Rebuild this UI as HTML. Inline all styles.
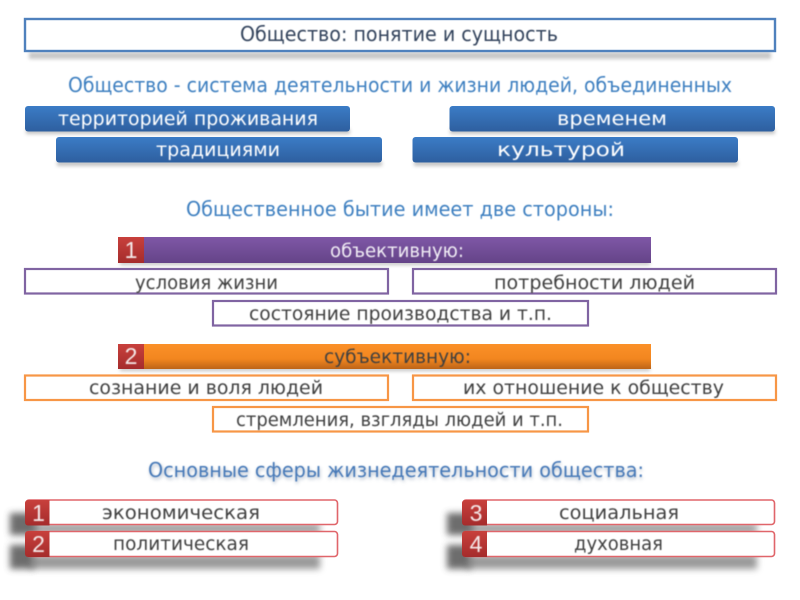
<!DOCTYPE html>
<html lang="ru"><head><meta charset="utf-8"><style>
html,body{margin:0;padding:0;background:#fff;width:800px;height:600px;overflow:hidden}
svg{display:block}
text{font-family:"DejaVu Sans","Liberation Sans",sans-serif;font-size:19px;fill:#3f3f3f;filter:url(#tb)}
.w{fill:#fff}.b{fill:#3d7fc0}
.n{font-family:"Liberation Sans",sans-serif;font-size:23px;fill:#f4e8e8}
</style></head><body>
<svg width="800" height="600" viewBox="0 0 800 600" xmlns="http://www.w3.org/2000/svg">
<defs>
<filter id="tb" x="-5%" y="-30%" width="110%" height="160%"><feGaussianBlur stdDeviation="0.4"/></filter>
<filter id="s1" x="-20%" y="-150%" width="140%" height="400%"><feGaussianBlur stdDeviation="3.500"/></filter>
<filter id="s2" x="-20%" y="-100%" width="140%" height="300%"><feGaussianBlur stdDeviation="1.800"/></filter>
<filter id="s3" x="-50%" y="-50%" width="200%" height="200%"><feGaussianBlur stdDeviation="3.500"/></filter>
<linearGradient id="bl" x1="0" y1="0" x2="0" y2="1"><stop offset="0" stop-color="#3b7cc6"/><stop offset="1" stop-color="#2e5f9f"/></linearGradient>
<linearGradient id="pu" x1="0" y1="0" x2="0" y2="1"><stop offset="0" stop-color="#7f57a6"/><stop offset="1" stop-color="#654488"/></linearGradient>
<linearGradient id="or" x1="0" y1="0" x2="0" y2="1"><stop offset="0" stop-color="#fb9028"/><stop offset="0.6" stop-color="#f2861f"/><stop offset="1" stop-color="#bd6418"/></linearGradient>
<linearGradient id="re" x1="0" y1="0" x2="0" y2="1"><stop offset="0" stop-color="#c8403c"/><stop offset="1" stop-color="#a52c2c"/></linearGradient>
</defs>

<!-- Title -->
<rect x="29" y="52" width="742" height="7" fill="#9a9a9a" opacity=".55" filter="url(#s2)"/>
<rect x="25" y="19" width="750" height="32" fill="#fff" stroke="#4f81bd" stroke-width="2.400"/>
<text x="240" y="41" textLength="318" lengthAdjust="spacingAndGlyphs" style="fill:#33435c;font-size:20px">Общество: понятие и сущность</text>
<text class="b" x="68" y="92" textLength="664" lengthAdjust="spacingAndGlyphs" style="font-size:20px">Общество - система деятельности и жизни людей, объединенных</text>

<!-- Blue bars -->
<g fill="#888" opacity=".5" filter="url(#s2)">
<rect x="26" y="129" width="324" height="5"/><rect x="57" y="161" width="325" height="5"/>
<rect x="450" y="129" width="325" height="5"/><rect x="414" y="161" width="324" height="5"/>
</g>
<rect x="25" y="106" width="325" height="25.500" rx="3" fill="url(#bl)"/>
<rect x="56" y="137" width="326" height="25.500" rx="3" fill="url(#bl)"/>
<rect x="449.500" y="106" width="325.500" height="25.500" rx="3" fill="url(#bl)"/>
<rect x="412.500" y="137" width="325.500" height="25.500" rx="3" fill="url(#bl)"/>
<text class="w" x="58" y="125" textLength="260" lengthAdjust="spacingAndGlyphs">территорией проживания</text>
<text class="w" x="156" y="156" textLength="124" lengthAdjust="spacingAndGlyphs">традициями</text>
<text class="w" x="557" y="125" textLength="110" lengthAdjust="spacingAndGlyphs">временем</text>
<text class="w" x="497" y="156" textLength="128" lengthAdjust="spacingAndGlyphs">культурой</text>

<text class="b" x="186" y="216" textLength="428" lengthAdjust="spacingAndGlyphs" style="font-size:20px">Общественное бытие имеет две стороны:</text>

<!-- Purple section -->
<rect x="120" y="261" width="530" height="4" fill="#888" opacity=".5" filter="url(#s2)"/>
<rect x="144" y="237" width="507" height="26" fill="url(#pu)"/>
<rect x="118" y="237" width="26" height="26" fill="url(#re)"/>
<text class="n" x="131" y="258" text-anchor="middle">1</text>
<text class="w" x="330" y="257" textLength="134" lengthAdjust="spacingAndGlyphs" style="fill:#f1edf5">объективную:</text>
<g fill="#fff" stroke="#8064a2" stroke-width="2.200">
<rect x="25" y="269" width="363" height="24.500"/>
<rect x="413" y="269" width="363" height="24.500"/>
<rect x="213" y="301" width="375" height="24.500"/>
</g>
<text x="135" y="289" textLength="143" lengthAdjust="spacingAndGlyphs">условия жизни</text>
<text x="494" y="289" textLength="201" lengthAdjust="spacingAndGlyphs">потребности людей</text>
<text x="249" y="320" textLength="303" lengthAdjust="spacingAndGlyphs">состояние производства и т.п.</text>

<!-- Orange section -->
<rect x="120" y="367" width="530" height="4" fill="#888" opacity=".5" filter="url(#s2)"/>
<rect x="144" y="344" width="507" height="25" fill="url(#or)"/>
<rect x="118" y="344" width="26" height="25" fill="url(#re)"/>
<text class="n" x="131" y="364" text-anchor="middle">2</text>
<text x="324" y="363" textLength="147" lengthAdjust="spacingAndGlyphs">субъективную:</text>
<g fill="#fff" stroke="#f79646" stroke-width="2.200">
<rect x="25" y="375.500" width="363" height="24.500"/>
<rect x="413" y="375.500" width="363" height="24.500"/>
<rect x="213" y="407" width="375" height="24.500"/>
</g>
<text x="89" y="394" textLength="234" lengthAdjust="spacingAndGlyphs">сознание и воля людей</text>
<text x="463" y="394" textLength="261" lengthAdjust="spacingAndGlyphs">их отношение к обществу</text>
<text x="236" y="426" textLength="327" lengthAdjust="spacingAndGlyphs">стремления, взгляды людей и т.п.</text>

<!-- Heading 3 -->
<text x="149" y="479" textLength="495" lengthAdjust="spacingAndGlyphs" style="fill:#8a9ab0;font-size:20px;filter:url(#s2);opacity:.7">Основные сферы жизнедеятельности общества:</text>
<text class="b" x="148" y="477" textLength="496" lengthAdjust="spacingAndGlyphs" style="font-size:20px;fill:#4679b8">Основные сферы жизнедеятельности общества:</text>

<!-- Skewed shadows -->
<g fill="#4a4a4a" opacity=".8">
<rect x="10" y="513" width="26" height="22" filter="url(#s3)"/>
<rect x="10" y="545" width="24" height="24" filter="url(#s3)"/>
<rect x="447" y="513" width="26" height="22" filter="url(#s3)"/>
<rect x="447" y="545" width="24" height="24" filter="url(#s3)"/>
</g>
<g fill="#6e6e6e" opacity=".7">
<rect x="30" y="524" width="290" height="9" filter="url(#s1)"/>
<rect x="30" y="555" width="290" height="14" filter="url(#s1)"/>
<rect x="467" y="524" width="290" height="9" filter="url(#s1)"/>
<rect x="467" y="555" width="290" height="14" filter="url(#s1)"/>
</g>

<!-- Red items -->
<g fill="#fff" stroke="#e0656a" stroke-width="1.600">
<rect x="26" y="500" width="311.500" height="24.500" rx="3"/>
<rect x="26" y="531.500" width="311.500" height="25" rx="3"/>
<rect x="463" y="500" width="311.500" height="24.500" rx="3"/>
<rect x="463" y="531.500" width="311.500" height="25" rx="3"/>
</g>
<g fill="url(#re)">
<path d="M28 500h21.500v25.500H28a3 3 0 0 1-3-3V503a3 3 0 0 1 3-3z"/>
<path d="M28 531h21.500v26H28a3 3 0 0 1-3-3V534a3 3 0 0 1 3-3z"/>
<path d="M465 500h22v25.500h-22a3 3 0 0 1-3-3V503a3 3 0 0 1 3-3z"/>
<path d="M465 531h22v26h-22a3 3 0 0 1-3-3V534a3 3 0 0 1 3-3z"/>
</g>
<text class="n" x="38.500" y="521" text-anchor="middle">1</text>
<text class="n" x="38.500" y="552" text-anchor="middle">2</text>
<text class="n" x="476" y="521" text-anchor="middle">3</text>
<text class="n" x="476" y="552" text-anchor="middle">4</text>
<text x="102" y="519" textLength="158" lengthAdjust="spacingAndGlyphs">экономическая</text>
<text x="113" y="550" textLength="136" lengthAdjust="spacingAndGlyphs">политическая</text>
<text x="559" y="519" textLength="120" lengthAdjust="spacingAndGlyphs">социальная</text>
<text x="574" y="550" textLength="89" lengthAdjust="spacingAndGlyphs">духовная</text>
</svg>
</body></html>
